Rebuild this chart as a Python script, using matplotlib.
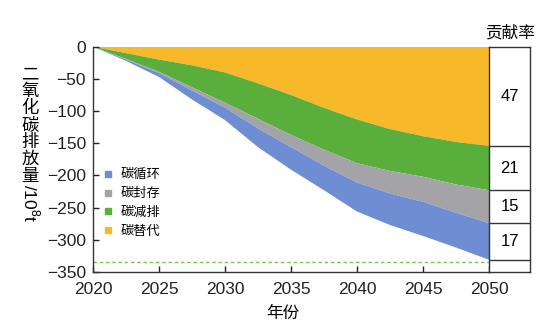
import numpy as np
import matplotlib
matplotlib.use("Agg")
import matplotlib.pyplot as plt
from matplotlib.lines import Line2D

plt.rcParams['font.family'] = ['Liberation Sans', 'Noto Sans CJK SC', 'DejaVu Sans']
plt.rcParams['mathtext.fontset'] = 'custom'
plt.rcParams['mathtext.rm'] = 'Liberation Sans'
plt.rcParams['axes.unicode_minus'] = True

# ---- data (10^8 t, thickness of each layer, reductions shown as negative) ----
years = [2020, 2022.5, 2025, 2027.5, 2030, 2032.5, 2035, 2037.5, 2040, 2042.5, 2045, 2047.5, 2050]
substitution = [0, 10, 20, 29, 40, 57, 75, 95, 113, 128, 139, 148, 154]   # 碳替代
reduction    = [0, 9, 19, 34, 47, 55, 62, 65, 68, 65, 63, 66, 69]         # 碳减排
storage      = [0, 1, 2, 5, 8, 15, 19, 25, 30, 35, 39, 44, 51]            # 碳封存
cycle        = [0, 2, 6, 14, 19, 29, 35, 38, 45, 49, 53, 54, 57]          # 碳循环
target_line = -335
contrib_labels = ['碳替代', '碳减排', '碳封存', '碳循环']
contrib_rates = [47, 21, 15, 17]
xticks = [2020, 2025, 2030, 2035, 2040, 2045, 2050]
yticks = [0, -50, -100, -150, -200, -250, -300, -350]

colors = {'碳替代': '#F7B82A', '碳减排': '#5AAE3C', '碳封存': '#A4A3A8', '碳循环': '#6E8DD3'}

W, H = 554, 331
fig = plt.figure(figsize=(W / 100, H / 100), dpi=100)
left, right, top, bottom = 93, 489, 46.7, 272
ax = fig.add_axes([left / W, 1 - bottom / H, (right - left) / W, (bottom - top) / H])
bx = fig.add_axes([right / W, 1 - bottom / H, 41 / W, (bottom - top) / H])

series = [substitution, reduction, storage, cycle]
ax.stackplot(years, *[-np.array(s) for s in series],
             colors=[colors[k] for k in contrib_labels], linewidth=0)
ax.plot([2020, 2050], [target_line, target_line], color='#7AC256', lw=1.0,
        dashes=(2.5, 2))

ax.set_xlim(2020, 2050)
ax.set_ylim(-350, 0)
ax.set_xticks(xticks)
ax.set_yticks(yticks)
ax.tick_params(direction='in', length=4, width=1, labelsize=12.5, colors='#222222')
ax.tick_params(axis='x', pad=7)
ax.tick_params(axis='y', pad=5)
for s in ['top', 'right']:
    ax.spines[s].set_visible(False)
for s in ['left', 'bottom']:
    ax.spines[s].set_linewidth(1)
    ax.spines[s].set_color('#333333')

# legend (order: 碳循环, 碳封存, 碳减排, 碳替代)
leg_order = ['碳循环', '碳封存', '碳减排', '碳替代']
handles = [Line2D([], [], marker='s', ls='none', ms=5, color=colors[k]) for k in leg_order]
ax.legend(handles, leg_order, loc='upper left', bbox_to_anchor=(0.01, 0.48),
          frameon=False, fontsize=9.5, handlelength=0.8, handletextpad=0.6,
          labelspacing=0.5, borderaxespad=0)

# y label: upright stacked CJK + rotated unit
fig.text(30 / W, 1 - 125 / H, '二\n氧\n化\n碳\n排\n放\n量', ha='center', va='center',
         fontsize=12.5, linespacing=0.92, family=['Noto Sans CJK SC'])
fig.text(31 / W, 1 - 203 / H, r'/10$^{8}$t', ha='center', va='center',
         fontsize=12.5, rotation=-90)

fig.text(283 / W, 1 - 313 / H, '年份', ha='center', va='center', fontsize=12)

# contribution box
bx.set_xlim(0, 1)
bx.set_ylim(-350, 0)
bx.set_xticks([])
bx.set_yticks([])
for s in bx.spines.values():
    s.set_linewidth(1)
    s.set_color('#333333')
cum = np.cumsum([s[-1] for s in series])
prev = 0
for c, rate in zip(cum, contrib_rates):
    bx.axhline(-c, color='#333333', lw=1)
    bx.text(0.5, -(prev + c) / 2, str(rate), ha='center', va='center', fontsize=12)
    prev = c
fig.text(510 / W, 1 - 33 / H, '贡献率', ha='center', va='center', fontsize=12)

fig.savefig('out.png', dpi=100)
